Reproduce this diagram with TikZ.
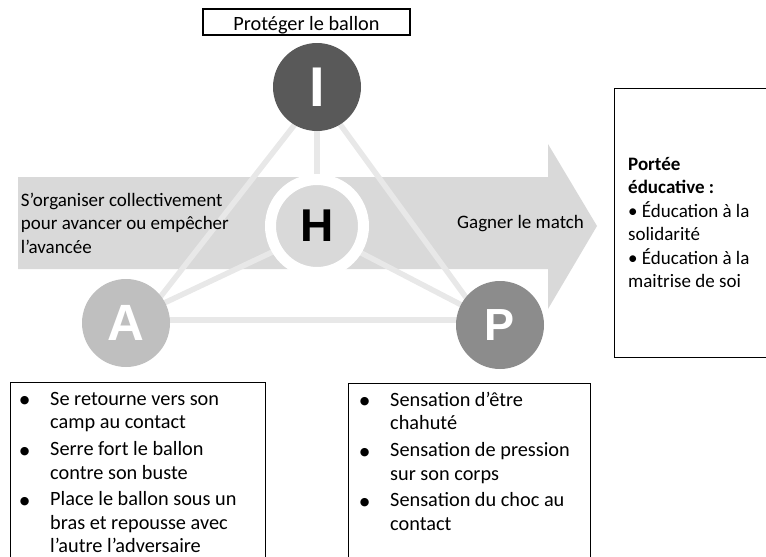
\documentclass[tikz,border=0pt]{standalone}
\usepackage{fontspec}
\setmainfont{Carlito}
\newfontfamily\letterfont{Liberation Sans}
\newfontfamily\dotfont{DejaVu Sans}
\usetikzlibrary{backgrounds}

\definecolor{bandgray}{HTML}{D9D9D9}
\definecolor{linkgray}{HTML}{E8E8E8}
\definecolor{igray}{HTML}{595959}
\definecolor{agray}{HTML}{BFBFBF}
\definecolor{pgray}{HTML}{8C8C8C}

% hanging list bullet, centred 25.5pt left of the item text
\newcommand\itemdot{\llap{\makebox[0pt][c]{\raisebox{1.5pt}{\dotfont\fontsize{11}{11}\selectfont ●}}\hspace{25.5pt}}}

\tikzset{
  body/.style={font=\fontsize{19}{23.5}\selectfont, inner sep=0, align=left},
  listbody/.style={font=\fontsize{20.3}{23.5}\selectfont, inner sep=0, align=left},
  frame/.style={draw=black, line width=1.3, inner sep=0},
  letter/.style={circle, inner sep=0, minimum size=88, text=white},
  link/.style={draw=linkgray, line width=5.5},
}

\begin{document}
\begin{tikzpicture}[x=1pt, y=-1pt]
  \useasboundingbox (0,0) rectangle (766,557);
  \clip (0,0) rectangle (766,557);

  % the four circles
  \node[letter, fill=igray, font=\letterfont\bfseries\fontsize{56}{56}\selectfont] (I) at (317,87) {I};
  \node[letter, fill=agray, font=\letterfont\bfseries\fontsize{51}{51}\selectfont] (A) at (126,323) {A};
  \node[letter, fill=pgray, font=\letterfont\bfseries\fontsize{45}{45}\selectfont] (P) at (500,325) {P};
  \node[circle, inner sep=0, minimum size=93, fill=bandgray, draw=white, line width=11,
        text=black, font=\letterfont\bfseries\fontsize{46}{46}\selectfont] (H) at (317,226) {H};

  \begin{pgfonlayer}{background}
    % broad arrow behind the triangle
    \fill[bandgray] (18,177) -- (548,177) -- (548,144) -- (597,226) -- (548,309)
      -- (548,269) -- (18,269) -- cycle;
    % links of the triangle
    \draw[link] ([xshift=7pt]I.center) -- ([xshift=14pt]A.center);
    \draw[link] ([xshift=-4pt]I.center) -- ([xshift=-14pt]P.center);
    \draw[link] (I.center) -- (H.center);
    \draw[link] ([yshift=-5pt]H.center) -- ([yshift=2pt]A.center);
    \draw[link] ([yshift=-4pt]H.center) -- (P.center);
    \draw[link] ([yshift=3pt]A.center) -- ([yshift=5pt]P.center);
  \end{pgfonlayer}

  % title box
  \node[frame, minimum width=207, minimum height=26, text height=18, text depth=2,
        font=\fontsize{20.3}{23.5}\selectfont] (title) at (306.5,22) {Protéger le ballon};

  % texts on the arrow
  \node[body, anchor=north west] (goal) at (20.7,189.5)
    {\strut S’organiser collectivement\\pour avancer ou empêcher\\l’avancée};
  \node[body, anchor=base west] (win) at (457,228) {Gagner le match};

  % educational scope
  \node[frame, anchor=north west, minimum width=170, minimum height=269] (edu) at (614,88) {};
  \node[body, anchor=north west] (edutext) at (628,153.5)
    {\strut\textbf{Portée}\\\textbf{éducative :}\\• Éducation à la\\solidarité\\• Éducation à la\\maitrise de soi};

  % observable behaviours and sensations
  \node[frame, anchor=north west, minimum width=255, minimum height=200] (behave) at (10,382) {};
  \node[listbody, anchor=north west] (behavetext) at (50,388.5)
    {\strut\itemdot Se retourne vers son\\camp au contact\\[3.5pt]
     \itemdot Serre fort le ballon\\contre son buste\\[3pt]
     \itemdot Place le ballon sous un\\bras et repousse avec\\l’autre l’adversaire};

  \node[frame, anchor=north west, minimum width=242, minimum height=200] (feel) at (348,383) {};
  \node[listbody, anchor=north west] (feeltext) at (390,389.5)
    {\strut\itemdot Sensation d’être\\chahuté\\[3.5pt]
     \itemdot Sensation de pression\\sur son corps\\[3pt]
     \itemdot Sensation du choc au\\contact};
\end{tikzpicture}
\end{document}
